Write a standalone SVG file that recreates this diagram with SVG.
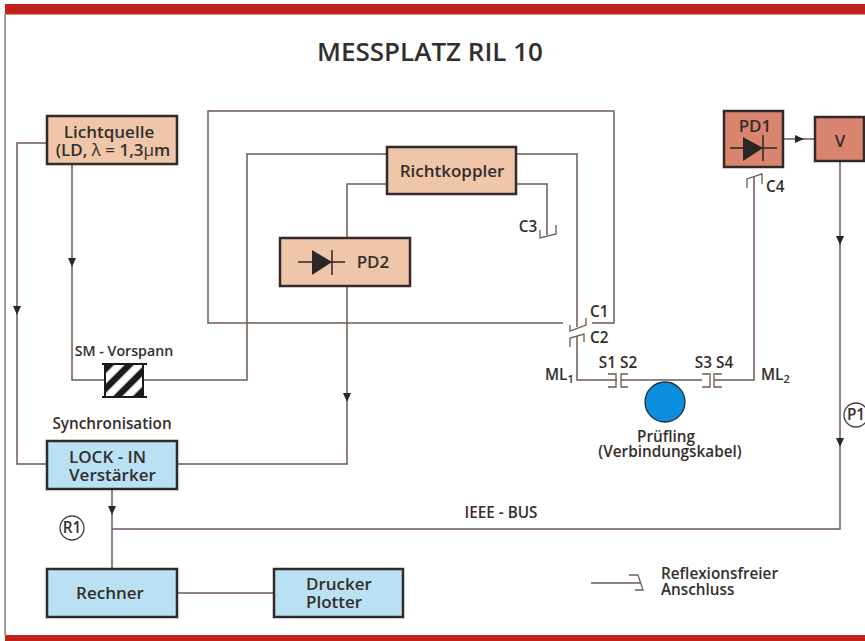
<svg xmlns="http://www.w3.org/2000/svg" width="865" height="641" viewBox="0 0 865 641">
<style>
text{font-family:"Open Sans","Noto Sans","Liberation Sans",sans-serif;font-weight:600;fill:#332e2c;text-anchor:middle;font-size:17px}
.l{text-anchor:start}
.s{font-size:15.3px}
.box{stroke:#33292a;stroke-width:2.5}
.pk{fill:#efc6aa}.rd{fill:#d98570}.bl{fill:#b9e1f3}
.w{fill:none;stroke:#6e5a54;stroke-width:1.5}
.t{fill:none;stroke:#6e5a54;stroke-width:1.3}
.a{fill:#2b2726}
.d{fill:#2b2726;stroke:none}
.dl{stroke:#2b2726;stroke-width:1.5;fill:none}
.c{fill:#fff;stroke:#4a3f3c;stroke-width:1.3}
</style>
<defs><pattern id="h" width="14" height="14" patternUnits="userSpaceOnUse" patternTransform="translate(124,380) rotate(-45)"><rect width="14" height="14" fill="#fff"/><rect width="14" height="6.5" fill="#1c1a1a" y="3.75"/></pattern></defs>
<rect width="865" height="641" fill="#fff"/>
<rect x="5" y="4" width="860" height="10.5" fill="#c0211b"/>
<rect x="5" y="635" width="860" height="6" fill="#c0211b"/>
<rect x="4.3" y="14.5" width="1.5" height="621" fill="#8a7a76"/>
<text x="430" y="61" style="font-size:26px">MESSPLATZ RIL 10</text>
<g id="connectors">
<path class="w" d="M563,323H208V111H614V323H592"/>
<path class="w" d="M143,380H247V154H387M516,154H577V327M577,336V380H617M621,380H702M714,380H754V177"/>
<path class="w" d="M105,380H72V164"/>
<path class="w" d="M47,143H17V464H47"/>
<path class="w" d="M387,184H347V238M347,286V464H177"/>
<path class="w" d="M516,184H547V235"/>
<path class="w" d="M783,139H815"/>
<path class="w" d="M840,161V529H112M112,489V569"/>
<path class="w" d="M177,593H274"/>
<path class="w" d="M591,583H640"/>
<path class="t" d="M540,230V238L556,234V225"/>
<path class="t" d="M570,325V331L586,325V318"/>
<path class="t" d="M570,347V338L584,334V342"/>
<path class="t" d="M747,188V179L762,174V184"/>
<path class="t" d="M608,374H616V387H608M628,374H621V387H628"/>
<path class="t" d="M702,374H710V387H702M722,374H714V387H722"/>
<path class="t" d="M629,575H638L643,590H635"/>
<path class="a" d="M68,258h8l-4,9z"/>
<path class="a" d="M13,306h8l-4,9z"/>
<path class="a" d="M343,393h8l-4,9z"/>
<path class="a" d="M108,506h8l-4,9z"/>
<path class="a" d="M836,236h8l-4,9z"/>
<path class="a" d="M836,438h8l-4,9z"/>
<path class="a" d="M795,135v8l9,-4z"/>
</g>
<g id="lichtquelle"><rect class="box pk" x="47" y="116" width="130" height="48"/><text><tspan x="109" y="138">Lichtquelle</tspan><tspan x="113" y="156">(LD, <tspan font-weight="400">λ</tspan> = 1,3<tspan font-weight="400">μ</tspan>m</tspan></text></g>
<g id="richtkoppler"><rect class="box pk" x="387" y="147" width="129" height="47"/><text x="452" y="177">Richtkoppler</text></g>
<g id="pd2"><rect class="box pk" x="280" y="238" width="130" height="48"/><path class="dl" d="M298,262H345M332,250V275"/><path class="d" d="M312,250V275L332,262z"/><text x="373" y="268">PD2</text></g>
<g id="pd1"><rect class="box rd" x="724" y="111" width="59" height="56"/><path class="dl" d="M730,148H777M763,135V161"/><path class="d" d="M743,137V161L763,148z"/><text x="755" y="132">PD1</text></g>
<g id="v"><rect class="box rd" x="815" y="117" width="49" height="44"/><text x="840" y="147">V</text></g>
<g id="lockin"><rect class="box bl" x="47" y="441" width="130" height="48"/><text class="l"><tspan x="69" y="463">LOCK - IN</tspan><tspan x="69" y="481">Verstärker</tspan></text></g>
<g id="rechner"><rect class="box bl" x="47" y="569" width="130" height="48"/><text x="110" y="599">Rechner</text></g>
<g id="drucker"><rect class="box bl" x="274" y="569" width="129" height="48"/><text class="l"><tspan x="306" y="590">Drucker</tspan><tspan x="306" y="608">Plotter</tspan></text></g>
<g id="sm"><rect x="105" y="365" width="38" height="31" fill="url(#h)"/><path d="M102,364H147M102,397H147M105,364V397M143,364V397" stroke="#1c1a1a" stroke-width="2" fill="none"/></g>
<g id="pruefling"><circle cx="665" cy="402" r="20" fill="#0b8fdc" stroke="#1f2c3a" stroke-width="1.3"/></g>
<g id="labels">
<text class="s" x="124" y="356" style="font-size:14.2px">SM - Vorspann</text>
<text class="s" x="112" y="429">Synchronisation</text>
<text class="s" x="528" y="232">C3</text>
<text class="s l" x="590" y="317">C1</text>
<text class="s l" x="590" y="343">C2</text>
<text class="s l" x="766" y="192">C4</text>
<text class="s" x="618" y="368">S1 S2</text>
<text class="s" x="714" y="368">S3 S4</text>
<text class="s l" x="545" y="380">ML<tspan dy="3" style="font-size:11px">1</tspan></text>
<text class="s l" x="761" y="380">ML<tspan dy="3" style="font-size:11px">2</tspan></text>
<text class="s"><tspan x="666" y="442">Prüfling</tspan><tspan x="670" y="457">(Verbindungskabel)</tspan></text>
<text class="s" x="501" y="518">IEEE - BUS</text>
<text class="s l"><tspan x="661" y="579">Reflexionsfreier</tspan><tspan x="661" y="595">Anschluss</tspan></text>
</g>
<g id="r1"><circle class="c" cx="72" cy="528" r="12"/><text class="s" x="72" y="533">R1</text></g>
<g id="p1"><circle class="c" cx="856" cy="415" r="12"/><text class="s" x="856" y="420">P1</text></g>
</svg>
